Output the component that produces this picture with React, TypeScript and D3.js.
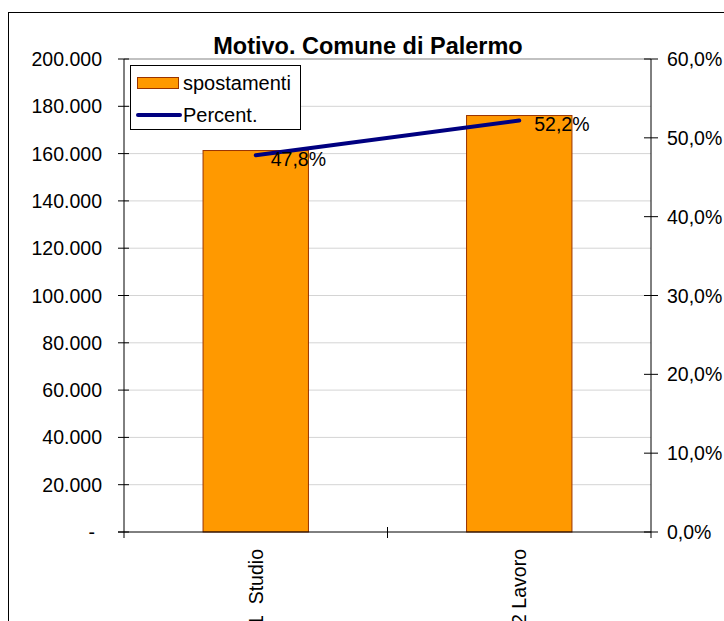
import * as d3 from "d3";

const categories = ["1  Studio", "2 Lavoro"];
const spostamenti = [161300, 176100];
const percent = [0.478, 0.522];
const percentLabels = ["47,8%", "52,2%"];
const leftTicks = [0, 20000, 40000, 60000, 80000, 100000, 120000, 140000, 160000, 180000, 200000];
const rightTicks = [0, 0.1, 0.2, 0.3, 0.4, 0.5, 0.6];

const fmtLeft = (v: number) => (v === 0 ? "-" : d3.format(".3f")(v / 1000));
const fmtRight = (v: number) => d3.format(".1f")(v * 100).replace(".", ",") + "%";

function App() {
  const width = 724;
  const height = 621;
  const left = 124;
  const right = 651;
  const top = 59;
  const bottom = 532;
  const font = "Arial, 'Liberation Sans', sans-serif";
  const fs = 19.5;

  const x = d3.scaleBand().domain(categories).range([left, right]).paddingInner(0.6).paddingOuter(0.3);
  const band = d3.scaleBand().domain(categories).range([left, right]);
  const y = d3.scaleLinear().domain([0, 200000]).range([bottom, top]);
  const y2 = d3.scaleLinear().domain([0, 0.6]).range([bottom, top]);

  const line = d3
    .line<number>()
    .x((_, i) => band(categories[i])! + band.bandwidth() / 2)
    .y((d) => y2(d));

  return (
    <svg
      width={width}
      height={height}
      style={{ position: "absolute", left: 0, top: 0, background: "#fff" }}
      fontFamily={font}
    >
      <rect x={8.5} y={12.5} width={740} height={640} fill="#fff" stroke="#000" />
      {leftTicks.slice(1).map((t) => (
        <line key={t} x1={left} x2={right} y1={y(t)} y2={y(t)} stroke="#d4d4d4" />
      ))}
      <line x1={left} x2={right} y1={top} y2={top} stroke="#999" />

      {spostamenti.map((v, i) => (
        <rect
          key={i}
          x={x(categories[i])}
          y={y(v)}
          width={x.bandwidth()}
          height={bottom - y(v)}
          fill="#FF9900"
          stroke="#993300"
          strokeWidth={1}
        />
      ))}

      {/* left axis */}
      <line x1={left} x2={left} y1={top} y2={bottom + 6} stroke="#000" />
      {leftTicks.map((t) => (
        <g key={t}>
          <line x1={left - 6} x2={left + 5} y1={y(t)} y2={y(t)} stroke="#000" />
          <text
            x={t === 0 ? 95 : 102}
            y={y(t)}
            dy="0.36em"
            textAnchor="end"
            fontSize={fs}
            fill="#000"
          >
            {fmtLeft(t)}
          </text>
        </g>
      ))}

      {/* right axis */}
      <line x1={right} x2={right} y1={top} y2={bottom + 6} stroke="#000" />
      {rightTicks.map((t) => (
        <g key={t}>
          <line x1={right - 7} x2={right + 7} y1={y2(t)} y2={y2(t)} stroke="#000" />
          <text x={667} y={y2(t)} dy="0.36em" fontSize={fs} fill="#000">
            {fmtRight(t)}
          </text>
        </g>
      ))}

      {/* x axis */}
      <line x1={left - 6} x2={right} y1={bottom} y2={bottom} stroke="#000" />
      {categories.slice(1).map((c) => (
        <line key={c} x1={band(c)} x2={band(c)} y1={bottom - 5} y2={bottom + 6} stroke="#000" />
      ))}
      {categories.map((c) => {
        const cx = band(c)! + band.bandwidth() / 2;
        return (
          <text
            key={c}
            transform={`translate(${cx + 7},${549}) rotate(-90)`}
            textAnchor="end"
            fontSize={fs}
            fill="#000"
            style={{ whiteSpace: "pre" }}
          >
            {c}
          </text>
        );
      })}

      {/* line series */}
      <path d={line(percent) ?? ""} fill="none" stroke="#000080" strokeWidth={4} strokeLinecap="round" />
      {percent.map((p, i) => (
        <text
          key={i}
          x={band(categories[i])! + band.bandwidth() / 2 + 15}
          y={y2(p)}
          dy="0.55em"
          fontSize={fs}
          fill="#000"
        >
          {percentLabels[i]}
        </text>
      ))}

      {/* title */}
      <text x={368} y={54} textAnchor="middle" fontSize={23.5} fontWeight="bold" fill="#000">
        Motivo. Comune di Palermo
      </text>

      {/* legend */}
      <rect x={130.5} y={65.5} width={170} height={64} fill="#fff" stroke="#000" />
      <rect x={137.5} y={77.5} width={41} height={11} fill="#FF9900" stroke="#993300" />
      <text x={183} y={90} fontSize={20} fill="#000">
        spostamenti
      </text>
      <line x1={138} x2={180} y1={115} y2={115} stroke="#000080" strokeWidth={4} strokeLinecap="round" />
      <text x={183} y={122} fontSize={20} fill="#000">
        Percent.
      </text>
    </svg>
  );
}

export default App;
